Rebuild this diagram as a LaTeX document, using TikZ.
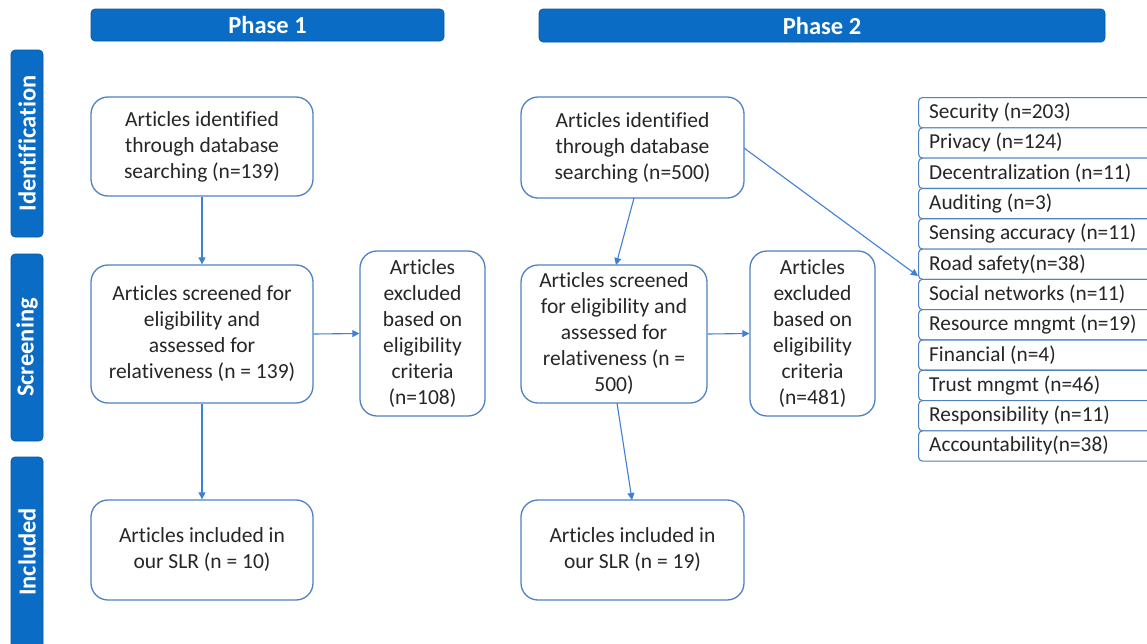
\documentclass[tikz,border=0pt]{standalone}
\usepackage{fontspec}
\setmainfont{Carlito}[Ligatures=NoCommon]
\usetikzlibrary{arrows.meta}
\definecolor{barblue}{HTML}{0A6CC4}
\definecolor{edgeblue}{HTML}{4F82C4}
\definecolor{arrblue}{HTML}{3F80D6}
\tikzset{
  hbar/.style={fill=barblue, draw=barblue!80!black, line width=0.6pt, rounded corners=4pt, text=white, font=\fontsize{24.5}{28}\selectfont\bfseries, inner sep=0pt},
  box/.style={draw=edgeblue, line width=1.3pt, fill=white, rounded corners=17pt, align=center, font=\fontsize{21.5}{26}\selectfont, text=black!85, inner sep=0pt},
  row/.style={draw=edgeblue, line width=1.1pt, fill=white, rounded corners=4pt, minimum height=30.3pt, minimum width=260pt, inner sep=0pt},
  rowtxt/.style={font=\fontsize{21.3}{24}\selectfont, text=black!85, anchor=west, inner sep=0pt},
  conn/.style={draw=arrblue, line width=1.1pt, -{Triangle[length=7pt,width=7pt]}}
}
\begin{document}
\begin{tikzpicture}[x=1pt,y=-1pt]
\clip (0,0) rectangle (1147,643);
\fill[white] (0,0) rectangle (1147,643);
% phase bars
\node[hbar, minimum width=353pt, minimum height=32pt] (ph1) at (267.5,25) {Phase 1};
\node[hbar, minimum width=566pt, minimum height=33pt] (ph2) at (822,25.5) {Phase 2};
% stage bars
\node[hbar, minimum width=187pt, minimum height=32pt, rotate=90] (st1) at (27,143.5) {Identification};
\node[hbar, minimum width=187pt, minimum height=32pt, rotate=90] (st2) at (27,347.5) {Screening};
\node[hbar, minimum width=200pt, minimum height=32pt, rotate=90] (st3) at (27,557) {};
\node[font=\fontsize{24.5}{28}\selectfont\bfseries, text=white, rotate=90, inner sep=0pt] (st3t) at (27,552) {Included};
% phase 1 boxes
\node[box, minimum width=222pt, minimum height=99pt] (a1) at (202,146.5) {Articles identified\\through database\\searching (n=139)};
\node[box, minimum width=222pt, minimum height=138pt] (b1) at (202,334) {Articles screened for\\eligibility and\\assessed for\\relativeness (n = 139)};
\node[box, minimum width=125pt, minimum height=165pt] (c1) at (422.5,333.5) {Articles\\excluded\\based on\\eligibility\\criteria\\(n=108)};
\node[box, minimum width=222pt, minimum height=100pt] (d1) at (202,550) {Articles included in\\our SLR (n = 10)};
% phase 2 boxes
\node[box, minimum width=223pt, minimum height=101pt] (a2) at (632.5,147.5) {Articles identified\\through database\\searching (n=500)};
\node[box, minimum width=186pt, minimum height=138pt] (b2) at (614,334) {Articles screened\\for eligibility and\\assessed for\\relativeness (n =\\500)};
\node[box, minimum width=125pt, minimum height=165pt] (c2) at (812.5,333.5) {Articles\\excluded\\based on\\eligibility\\criteria\\(n=481)};
\node[box, minimum width=223pt, minimum height=100pt] (d2) at (632.5,550) {Articles included in\\our SLR (n = 19)};
% list
\foreach \i/\t in {0/Security (n=203),1/Privacy (n=124),2/Decentralization (n=11),3/Auditing (n=3),4/Sensing accuracy (n=11),5/Road safety(n=38),6/Social networks (n=11),7/Resource mngmt (n=19),8/Financial (n=4),9/Trust mngmt (n=46),10/Responsibility (n=11),11/Accountability(n=38)}{
  \node[row, anchor=north west] (r\i) at (918,{97+\i*30.3}) {};
  \node[rowtxt] (rt\i) at (929,{112.5+\i*30.3}) {\t};
}
\coordinate (tip) at (918,276);
% connectors
\draw[conn] (a1.south) -- (b1.north);
\draw[conn] (b1.east) -- (c1.west);
\draw[conn] (b1.south) -- (d1.north);
\draw[conn] (634,198) -- (616,265);
\draw[conn] (b2.east) -- (c2.west);
\draw[conn] (617,403) -- (632,500);
\draw[conn] (744,148) -- (tip);
\end{tikzpicture}
\end{document}
